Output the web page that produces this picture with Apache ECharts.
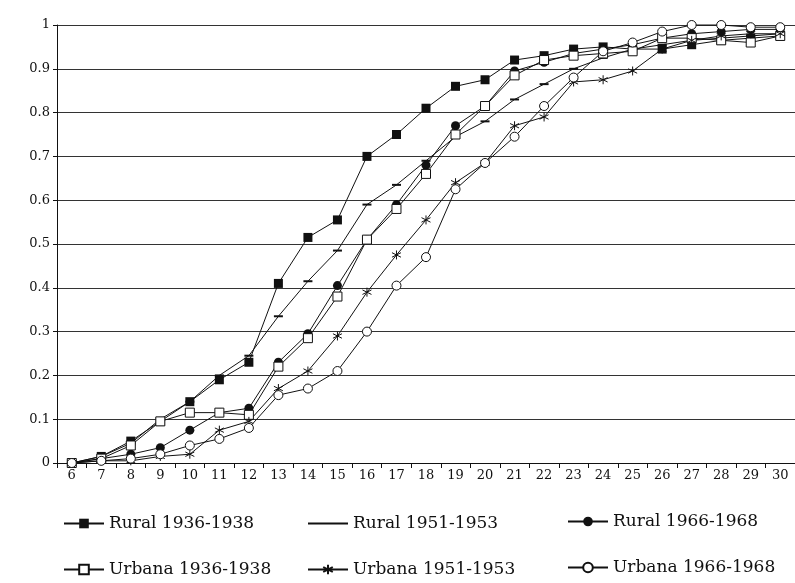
<!DOCTYPE html>
<html>
<head>
<meta charset="utf-8">
<script src="https://cdn.jsdelivr.net/npm/echarts@6/dist/echarts.min.js"></script>
<style>
    html, body { margin: 0; padding: 0; background: #fff; }
    #chart { width: 795px; height: 583px; }
</style>
</head>
<body>
<div id="chart"></div>
<script>
// ages on the x axis
const ages = ['6', '7', '8', '9', '10', '11', '12', '13', '14', '15', '16', '17', '18',
    '19', '20', '21', '22', '23', '24', '25', '26', '27', '28', '29', '30'];

// cumulative proportions
const rural1936 = [0, 0.015, 0.05, 0.095, 0.14, 0.19, 0.23, 0.41, 0.515, 0.555, 0.70, 0.75, 0.81,
    0.86, 0.875, 0.92, 0.93, 0.945, 0.95, 0.945, 0.945, 0.955, 0.965, 0.97, 0.975];
const rural1951 = [0, 0.015, 0.045, 0.10, 0.14, 0.20, 0.245, 0.335, 0.415, 0.485, 0.59, 0.635, 0.69,
    0.745, 0.78, 0.83, 0.865, 0.90, 0.925, 0.945, 0.955, 0.965, 0.97, 0.975, 0.98];
const rural1966 = [0, 0.01, 0.02, 0.035, 0.075, 0.115, 0.125, 0.23, 0.295, 0.405, 0.51, 0.59, 0.68,
    0.77, 0.815, 0.895, 0.915, 0.935, 0.945, 0.955, 0.97, 0.98, 0.985, 0.99, 0.99];
const urbana1936 = [0, 0.01, 0.04, 0.095, 0.115, 0.115, 0.11, 0.22, 0.285, 0.38, 0.51, 0.58, 0.66,
    0.75, 0.815, 0.885, 0.92, 0.93, 0.935, 0.94, 0.97, 0.97, 0.965, 0.96, 0.975];
const urbana1951 = [0, 0.005, 0.005, 0.015, 0.02, 0.075, 0.095, 0.17, 0.21, 0.29, 0.39, 0.475, 0.555,
    0.64, 0.685, 0.77, 0.79, 0.87, 0.875, 0.895, 0.945, 0.965, 0.975, 0.98, 0.98];
const urbana1966 = [0, 0.005, 0.01, 0.02, 0.04, 0.055, 0.08, 0.155, 0.17, 0.21, 0.30, 0.405, 0.47,
    0.625, 0.685, 0.745, 0.815, 0.88, 0.94, 0.96, 0.985, 1.0, 1.0, 0.995, 0.995];

const ink = '#111';
const serif = 'DejaVu Serif';
const asterisk = 'path://M5,0L5,10M0.7,2.5L9.3,7.5M0.7,7.5L9.3,2.5';

function makeSeries(name, data, symbol, size, filled) {
    return {
        name: name,
        type: 'line',
        data: data,
        symbol: symbol,
        symbolSize: size,
        showAllSymbol: true,
        clip: false,
        lineStyle: { color: ink, width: 1 },
        itemStyle: {
            color: filled ? ink : '#fff',
            borderColor: ink,
            borderWidth: filled ? 0 : 1
        },
        emphasis: { disabled: true }
    };
}

// one legend per entry so the 3x2 layout lines up like the original
function makeLegend(item, left, top) {
    return {
        data: [item],
        left: left,
        top: top,
        itemWidth: 40,
        itemHeight: 12,
        itemGap: 3,
        textStyle: { fontFamily: serif, fontSize: 17, color: ink }
    };
}

const chart = echarts.init(document.getElementById('chart'));
chart.setOption({
    animation: false,
    backgroundColor: '#fff',
    grid: { left: 57, right: -5, top: 25, bottom: 120 },
    legend: [
        makeLegend('Rural 1936-1938', 58, 510),
        // the original shows this one as a bare line
        makeLegend({ name: 'Rural 1951-1953', itemStyle: { opacity: 0 } }, 302, 510),
        makeLegend('Rural 1966-1968', 562, 508),
        makeLegend('Urbana 1936-1938', 58, 556),
        makeLegend('Urbana 1951-1953', 302, 556),
        makeLegend('Urbana 1966-1968', 562, 554)
    ],
    xAxis: {
        type: 'category',
        data: ages,
        boundaryGap: true,
        axisLine: { lineStyle: { color: ink, width: 1 } },
        axisTick: { show: true, length: 5, interval: 0, lineStyle: { color: ink } },
        axisLabel: { interval: 0, margin: 6, fontFamily: serif, fontSize: 13, color: ink },
        splitLine: { show: false }
    },
    yAxis: {
        type: 'value',
        min: 0,
        max: 1,
        interval: 0.1,
        axisLine: { show: true, lineStyle: { color: ink, width: 1 } },
        axisTick: { show: true, length: 4, lineStyle: { color: ink } },
        axisLabel: { margin: 7, fontFamily: serif, fontSize: 13, color: ink },
        splitLine: { lineStyle: { color: '#333', width: 1 } }
    },
    series: [
        makeSeries('Rural 1936-1938', rural1936, 'rect', 9, true),
        makeSeries('Rural 1951-1953', rural1951, 'rect', [9, 2], true),
        makeSeries('Rural 1966-1968', rural1966, 'circle', 9, true),
        makeSeries('Urbana 1936-1938', urbana1936, 'rect', 9, false),
        makeSeries('Urbana 1951-1953', urbana1951, asterisk, 9, false),
        makeSeries('Urbana 1966-1968', urbana1966, 'circle', 9, false)
    ]
});
</script>
</body>
</html>
